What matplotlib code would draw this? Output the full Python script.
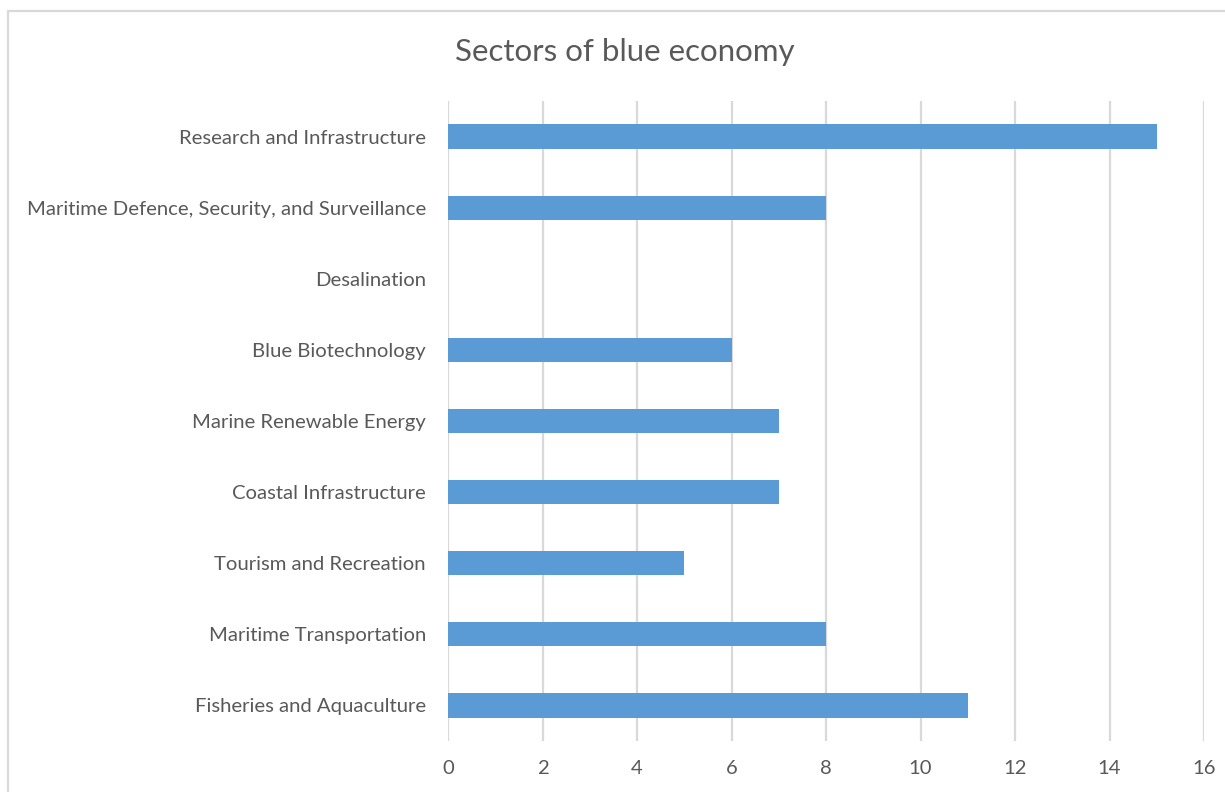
import matplotlib
matplotlib.use("Agg")
import matplotlib.pyplot as plt
from matplotlib.patches import Rectangle

# data
sectors = ['Fisheries and Aquaculture', 'Maritime Transportation', 'Tourism and Recreation',
           'Coastal Infrastructure', 'Marine Renewable Energy', 'Blue Biotechnology',
           'Desalination', 'Maritime Defence, Security, and Surveillance',
           'Research and Infrastructure']
counts = [11, 8, 5, 7, 7, 6, 0, 8, 15]
xticks = [0, 2, 4, 6, 8, 10, 12, 14, 16]

plt.rcParams['font.family'] = ['Lato', 'DejaVu Sans']
txt = '#595959'
grid = '#D9D9D9'

fig = plt.figure(figsize=(12.25, 7.92), dpi=100)
ax = fig.add_axes([448/1225, 1 - 741/792, (1204 - 448)/1225, 640/792])

ax.barh(range(len(sectors)), counts, height=0.34, color='#5B9BD5', zorder=3)

ax.set_xlim(0, 16)
ax.set_ylim(-0.5, len(sectors) - 0.5)
ax.set_xticks(xticks)
ax.set_xticklabels([str(t) for t in xticks])
ax.set_yticks(range(len(sectors)))
ax.set_yticklabels(sectors)
ax.tick_params(axis='x', length=0, pad=14, labelsize=14.6, labelcolor=txt)
ax.tick_params(axis='y', length=0, pad=16, labelsize=14.6, labelcolor=txt)
ax.grid(axis='x', color=grid, linewidth=1.6, zorder=0)
for s in ax.spines.values():
    s.set_visible(False)

fig.text(625/1225, 1 - 52/792, 'Sectors of blue economy', ha='center', va='center',
         fontsize=22.5, color=txt)

# chart area border (cropped at right and bottom)
fig.patches.append(Rectangle((8/1225, -0.05), 1.1, 1 - 11/792 + 0.05,
                             transform=fig.transFigure, fill=False,
                             edgecolor=grid, linewidth=1.6))

fig.savefig('out.png', dpi=100)
